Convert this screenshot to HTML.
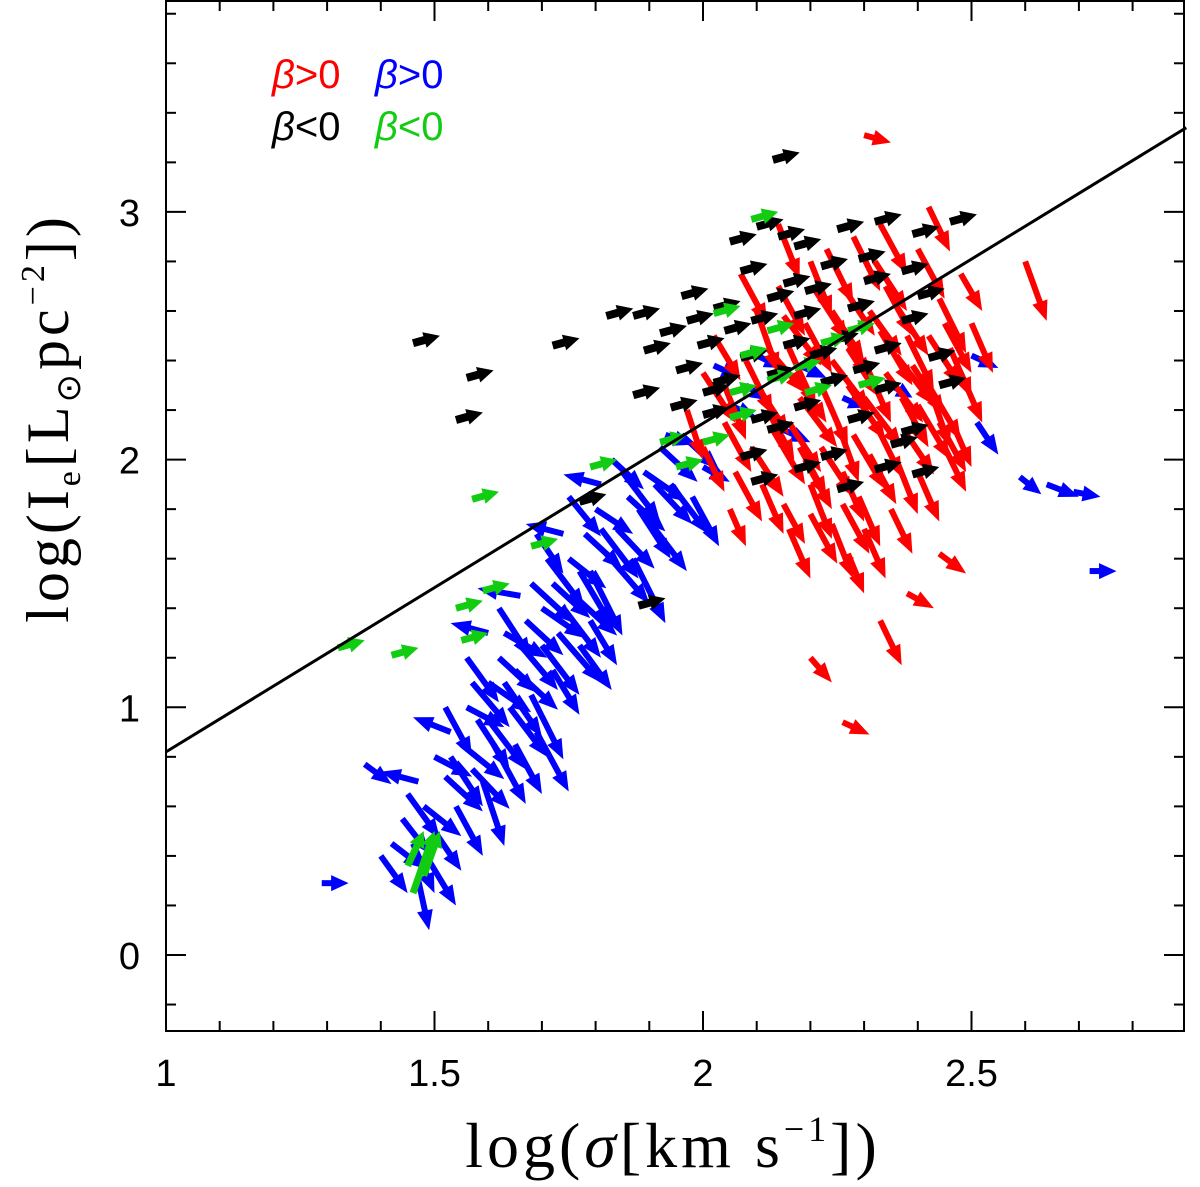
<!DOCTYPE html>
<html><head><meta charset="utf-8"><style>
html,body{margin:0;padding:0;background:#fff;}
svg{display:block;}
text{font-family:"Liberation Sans",sans-serif;}
</style></head><body>
<svg id="chart" width="1200" height="1187" viewBox="0 0 1200 1187">
<rect x="166" y="1" width="1018" height="1030" fill="none" stroke="#000" stroke-width="2"/>
<g id="ticks"></g>
<g id="lbls"></g>
<g id="marks"></g>
<line id="fit" stroke="#000" stroke-width="3"/>
<text x="673" y="1167" text-anchor="middle" font-size="64" letter-spacing="4" style="font-family:'Liberation Serif',serif">log(<tspan font-style="italic">σ</tspan>[km  s<tspan font-size="36" dy="-26">−1</tspan><tspan dy="26">])</tspan></text>
<text transform="translate(68,418) rotate(-90)" text-anchor="middle" font-size="60" letter-spacing="4" style="font-family:'Liberation Serif',serif">log(I<tspan font-size="34" dy="12">e</tspan><tspan dy="-12">[L</tspan><tspan font-size="34" dy="12">⊙</tspan><tspan dy="-12">pc</tspan><tspan font-size="34" dy="-24">−2</tspan><tspan dy="24">])</tspan></text>
<g font-size="40">
<text x="272" y="88" fill="#f00"><tspan font-style="italic">β</tspan>&gt;0</text>
<text x="375" y="88" fill="#00f"><tspan font-style="italic">β</tspan>&gt;0</text>
<text x="272" y="140" fill="#000"><tspan font-style="italic">β</tspan>&lt;0</text>
<text x="375" y="140" fill="#1c1"><tspan font-style="italic">β</tspan>&lt;0</text>
</g>
</svg>
<script>
const xTicks=[1,1.5,2,2.5];
const yTicks=[0,1,2,3];
const fitLine=[[1,0.82],[2.9,3.34]];
// [x, y, dx, dy] in data units (tail + vector)
const blackArrows=[[1.46,2.47,.05,.03],[1.56,2.33,.05,.03],[1.54,2.16,.05,.03],[1.72,2.46,.05,.03],[1.82,2.58,.05,.03],[1.87,2.58,.05,.03],[2.13,3.21,.05,.03],[1.77,1.83,.05,.03],[1.88,1.41,.05,.03],
[2.1,2.94,.05,.03],[2.17,2.86,.05,.03],[2.25,2.93,.05,.03],[2.32,2.96,.05,.03],[2.39,2.91,.05,.03],[2.46,2.96,.05,.03],[2.07,2.76,.05,.03],[2.15,2.71,.05,.03],[2.22,2.78,.05,.03],[2.29,2.81,.05,.03],[2.37,2.76,.05,.03],
[1.97,2.56,.05,.03],[2.02,2.61,.05,.03],[2.09,2.56,.05,.03],[2.17,2.58,.05,.03],[2.27,2.61,.05,.03],[2.37,2.56,.05,.03],[1.92,2.51,.05,.03],[1.99,2.46,.05,.03],[2.07,2.41,.05,.03],[2.15,2.46,.05,.03],[2.24,2.48,.05,.03],[2.32,2.44,.05,.03],[2.42,2.41,.05,.03],
[1.95,2.36,.05,.03],[2.02,2.31,.05,.03],[2.12,2.34,.05,.03],[2.22,2.31,.05,.03],[2.32,2.28,.05,.03],[1.94,2.21,.05,.03],[2.0,2.18,.05,.03],[2.09,2.16,.05,.03],[2.17,2.21,.05,.03],[2.27,2.16,.05,.03],[2.37,2.11,.05,.03],
[2.07,2.01,.05,.03],[2.17,1.96,.05,.03],[2.22,2.01,.05,.03],[2.32,1.96,.05,.03],[2.39,1.94,.05,.03],[2.09,1.91,.05,.03],[2.25,1.88,.05,.03],[2.35,2.06,.05,.03],[1.89,2.44,.05,.03],[1.87,2.26,.05,.03],[2.44,2.3,.05,.03],[2.19,2.68,.05,.03],[2.05,2.88,.05,.03],[2.12,2.12,.05,.03],
[1.96,2.66,.05,.03],[2.04,2.52,.05,.03],[2.12,2.65,.05,.03],[2.2,2.42,.05,.03],[2.3,2.72,.05,.03],[2.4,2.66,.05,.03],[2.14,2.9,.05,.03],[2.28,2.36,.05,.03],[2.0,2.27,.05,.03]];
const greenArrows=[[1.32,1.24,.05,.03],[1.42,1.21,.05,.03],[1.55,1.27,.05,.03],[1.54,1.4,.05,.03],[1.59,1.47,.05,.03],[1.57,1.84,.05,.03],[1.68,1.65,.05,.03],[1.79,1.97,.05,.03],[2.09,2.97,.05,.03],
[1.95,1.97,.05,.03],[2.0,2.07,.05,.03],[2.05,2.27,.05,.03],[2.07,2.42,.05,.03],[2.12,2.32,.05,.03],[2.17,2.37,.05,.03],[2.22,2.47,.05,.03],[2.12,2.52,.05,.03],[2.02,2.59,.05,.03],[2.27,2.52,.05,.03],[2.29,2.3,.05,.03],[2.05,2.17,.05,.03],[1.92,2.07,.05,.03],[2.19,2.27,.05,.03],
[1.46,0.25,.04,.25],[1.48,0.32,.03,.18],[1.45,0.36,.03,.14]];
const redArrows=[[2.3,3.31,.05,-.03],[2.42,3.02,.04,-.18],[2.6,2.8,.04,-.24],[2.47,2.12,.03,-.15],[2.44,1.62,.05,-.08],[2.38,1.46,.05,-.06],[2.33,1.35,.04,-.18],[2.2,1.2,.04,-.1],[2.26,0.94,.05,-.05],[2.27,1.62,.03,-.16],[2.24,1.74,.04,-.22],[2.15,1.82,.04,-.16],[2.05,1.8,.03,-.15],
[1.97,2.2,.03,-.2],[2.0,2.05,.04,-.18],[2.04,2.3,.04,-.22],[2.06,1.95,.05,-.2],[2.1,2.6,.04,-.25],[2.12,2.2,.05,-.2],[2.14,2.95,.04,-.22],[2.16,2.45,.05,-.24],[2.18,2.05,.05,-.2],[2.2,2.8,.04,-.22],[2.22,2.3,.05,-.25],[2.24,2.6,.06,-.2],[2.26,1.95,.04,-.2],
[2.28,2.9,.05,-.22],[2.3,2.4,.05,-.25],[2.32,2.15,.05,-.22],[2.34,2.7,.05,-.2],[2.36,2.0,.04,-.22],[2.38,2.5,.05,-.22],[2.4,2.85,.05,-.2],[2.42,2.3,.04,-.25],[2.44,2.65,.05,-.22],[2.46,2.45,.04,-.2],[2.48,2.75,.04,-.15],[2.35,1.8,.04,-.18],[2.4,1.95,.04,-.2],
[2.08,2.4,.05,-.22],[2.14,2.7,.05,-.2],[2.19,2.55,.05,-.2],[2.25,2.15,.04,-.24],[2.29,1.85,.04,-.2],[2.31,2.6,.06,-.18],[2.33,2.95,.05,-.2],[2.37,2.25,.05,-.2],[2.2,1.9,.04,-.22],[2.11,1.9,.04,-.2],[2.17,2.35,.06,-.2],[2.02,2.5,.05,-.18],[2.27,2.45,.06,-.2],[2.45,2.05,.04,-.18],[2.5,2.55,.04,-.2],[2.07,2.75,.05,-.2],[2.23,2.85,.05,-.22],[2.38,2.1,.05,-.16],
[2.0,2.35,.06,-.2],[2.09,2.05,.06,-.2],[2.15,2.58,.07,-.2],[2.21,2.68,.06,-.2],[2.27,2.3,.07,-.22],[2.33,2.52,.06,-.22],[2.39,2.38,.06,-.2],[2.45,2.55,.05,-.2],[2.13,2.12,.06,-.22],[2.31,2.02,.05,-.2],[2.19,2.0,.05,-.2],[2.25,2.55,.06,-.22],[2.36,2.62,.06,-.2],[2.42,2.3,.06,-.22],[2.04,2.15,.05,-.2],[2.48,2.35,.04,-.2],[2.3,1.72,.04,-.2],[2.16,1.72,.04,-.2],
[2.12,2.45,.07,-.18],[2.18,2.25,.07,-.2],[2.24,2.4,.07,-.2],[2.3,2.25,.07,-.2],[2.36,2.42,.07,-.2],[2.42,2.5,.06,-.2],[2.22,2.05,.06,-.2],[2.28,2.1,.06,-.22],[2.34,2.35,.07,-.2],[2.4,2.22,.06,-.22],[2.1,2.3,.06,-.2],[2.16,2.15,.06,-.2],[2.26,2.7,.06,-.2],[2.32,2.8,.06,-.2],[2.44,2.15,.05,-.2],[2.2,1.78,.05,-.2],[2.26,1.82,.05,-.2]];
const blueArrows=[[1.29,0.29,.05,0],[1.37,0.77,.05,-.08],[1.4,0.4,.05,-.15],[1.47,0.3,.02,-.2],[2.72,1.55,.05,0],[2.59,1.93,.04,-.07],[2.64,1.9,.06,-.05],[2.69,1.87,.05,-.02],[2.5,2.42,.05,-.05],[2.51,2.15,.04,-.13],[2.35,2.3,.04,-.05],[2.1,2.42,.05,-.05],[2.0,1.97,.05,-.06],[1.93,2.1,.05,-.04],
[1.42,0.45,.06,-.1],[1.44,0.55,.05,-.14],[1.46,0.45,.04,-.2],[1.48,0.6,.07,-.12],[1.5,0.5,.05,-.16],[1.52,0.72,.07,-.14],[1.5,0.8,.07,-.08],[1.54,0.6,.05,-.2],[1.55,0.85,.08,-.14],[1.57,0.75,.07,-.16],[1.56,1.0,.07,-.08],[1.58,0.95,.06,-.2],
[1.6,1.1,.08,-.12],[1.61,0.85,.06,-.24],[1.62,1.2,.07,-.14],[1.64,1.0,.07,-.2],[1.63,1.3,.08,-.1],[1.65,1.15,.08,-.16],[1.67,1.35,.07,-.14],[1.68,1.05,.06,-.26],[1.7,1.4,.08,-.12],[1.7,1.25,.07,-.2],[1.72,1.5,.07,-.14],[1.73,1.3,.08,-.2],
[1.75,1.6,.07,-.12],[1.76,1.45,.08,-.16],[1.78,1.7,.07,-.14],[1.79,1.55,.06,-.26],[1.8,1.8,.07,-.1],[1.82,1.62,.08,-.2],[1.84,1.72,.07,-.16],[1.86,1.85,.07,-.14],[1.87,1.6,.06,-.26],[1.89,1.95,.08,-.12],[1.9,1.75,.07,-.2],[1.92,2.05,.07,-.14],
[1.94,1.9,.07,-.2],[1.96,2.1,.07,-.14],[1.98,1.85,.05,-.2],[1.66,1.45,-.08,.03],[1.6,1.3,-.07,.04],[1.53,0.9,-.07,.06],[1.74,1.7,-.07,.04],[1.81,1.9,-.07,.04],[1.47,0.7,-.07,.04],[1.59,0.7,.04,-.26],[1.69,0.9,.06,-.24],[1.77,1.25,.06,-.18],
[2.05,2.22,.05,-.05],[2.15,2.12,.05,-.05],[2.08,2.3,.04,-.06],[2.18,2.38,.05,-.05],[2.26,2.25,.04,-.04],[2.02,2.38,.05,-.05],
[1.45,0.65,.06,-.18],[1.49,0.38,.05,-.18],[1.53,0.8,.06,-.2],[1.57,1.1,.07,-.18],[1.6,0.95,.07,-.2],[1.63,1.1,.07,-.22],[1.66,1.25,.07,-.18],[1.68,1.5,.08,-.16],[1.71,1.6,.07,-.2],[1.74,1.4,.07,-.2],[1.77,1.55,.06,-.22],[1.81,1.72,.07,-.2],[1.85,1.95,.07,-.2],[1.88,1.8,.06,-.2],[1.91,1.9,.07,-.16],[1.62,1.4,.06,-.2],[1.56,1.2,.06,-.18],[1.52,1.0,.05,-.2],[1.69,1.7,.05,-.16],[1.75,1.85,.06,-.16],[1.83,2.0,.06,-.12],[1.65,0.85,.05,-.2],[1.72,1.15,.05,-.18],[1.79,1.35,.05,-.18]];

const X0=166,XS=537,Y0=955,YS=247.7,NS='http://www.w3.org/2000/svg';
const px=x=>X0+(x-1)*XS, py=y=>Y0-y*YS;
const tg=document.getElementById('ticks'), lg=document.getElementById('lbls'), mg=document.getElementById('marks');
function mk(tag,attrs,parent){const e=document.createElementNS(NS,tag);for(const k in attrs)e.setAttribute(k,attrs[k]);parent.appendChild(e);return e;}
for(let i=0;i<=19;i++){const x=1+i*0.1;const X=px(x);if(X>1184)break;const major=i%5===0;const L=major?20:10;
 const t1=mk('line',{x1:X,y1:1031,x2:X,y2:1031-L,stroke:'#000','stroke-width':2},tg);
 
 
 const t2=mk('line',{x1:X,y1:1,x2:X,y2:1+L,stroke:'#000','stroke-width':2},tg);
 
 }
for(let i=-1;i<=19;i++){const y=i*0.2;const Y=py(y);if(Y<1||Y>1031)continue;const major=i%5===0;const L=major?20:10;
 const t1=mk('line',{x1:166,y1:Y,x2:166+L,y2:Y,stroke:'#000','stroke-width':2},tg);
 
 
 const t2=mk('line',{x1:1184,y1:Y,x2:1184-L,y2:Y,stroke:'#000','stroke-width':2},tg);
 
 }
xTicks.forEach(v=>{const t=mk('text',{x:px(v),y:1086,'text-anchor':'middle','font-size':38},lg);t.textContent=String(v);
 
 });
yTicks.forEach(v=>{const t=mk('text',{x:140,y:py(v)+14,'text-anchor':'end','font-size':38},lg);t.textContent=String(v);
 
 });
const fl=document.getElementById('fit');
fl.setAttribute('x1',px(fitLine[0][0]));fl.setAttribute('y1',py(fitLine[0][1]));fl.setAttribute('x2',px(fitLine[1][0]));fl.setAttribute('y2',py(fitLine[1][1]));
function arrow(a,col,name,sw,W,Hm){const x1=px(a[0]),y1=py(a[1]),x2=px(a[0]+a[2]),y2=py(a[1]+a[3]);
 const dx=x2-x1,dy=y2-y1,L=Math.hypot(dx,dy)||1,ux=dx/L,uy=dy/L;const H=Math.min(Hm,L*0.65);
 const bx=x2-ux*H,by=y2-uy*H;
 const g=mk('g',{},mg);
 
 
 mk('line',{x1:x1,y1:y1,x2:bx+ux*2,y2:by+uy*2,stroke:col,'stroke-width':sw},g);
 mk('polygon',{points:`${x2},${y2} ${bx-uy*W},${by+ux*W} ${bx+uy*W},${by-ux*W}`,fill:col},g);}
blueArrows.forEach(a=>arrow(a,'#00f','arrow-blue',6,8,20));
redArrows.forEach(a=>arrow(a,'#f00','arrow-red',6,8,20));
blackArrows.forEach(a=>arrow(a,'#000','arrow-black',8,8,16));
greenArrows.forEach(a=>arrow(a,'#1c1','arrow-green',7,8,16));
</script>
</body></html>
